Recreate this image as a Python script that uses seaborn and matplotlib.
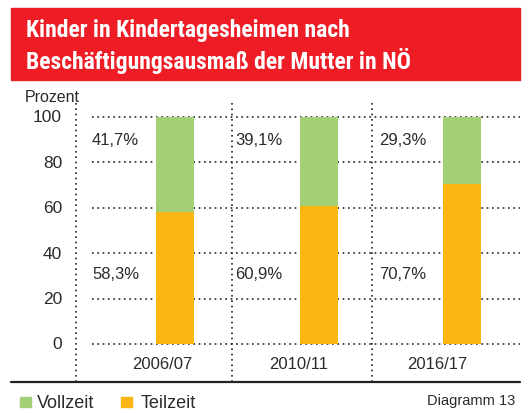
import matplotlib
matplotlib.use("Agg")
import matplotlib.pyplot as plt
import seaborn as sns
import pandas as pd
from matplotlib.patches import Rectangle
from matplotlib.lines import Line2D
from matplotlib import font_manager

years = ["2006/07", "2010/11", "2016/17"]
teilzeit = [58.3, 60.9, 70.7]
vollzeit = [41.7, 39.1, 29.3]
teil_labels = ["58,3%", "60,9%", "70,7%"]
voll_labels = ["41,7%", "39,1%", "29,3%"]
yticks = [0, 20, 40, 60, 80, 100]

GREEN = "#A3D077"
ORANGE = "#FBB614"
RED = "#EE1C25"
TXT = "#2b2b2b"

sns.set_theme(style="white")
plt.rcParams['font.family'] = ['Liberation Sans', 'DejaVu Sans']
names = {f.name for f in font_manager.fontManager.ttflist}
title_font = 'Liberation Sans'
for cand in ['Roboto Condensed', 'Liberation Sans Narrow', 'PT Sans Narrow',
             'Archivo Narrow', 'Barlow Condensed']:
    if cand in names:
        title_font = cand
        break

W, H = 528, 414
fig = plt.figure(figsize=(W / 100, H / 100), dpi=100)

def fx(px):
    return px / W

def fy(py):
    return 1 - py / H

# Red banner
fig.patches.append(Rectangle((fx(11), fy(81)), fx(520) - fx(11), fy(9) - fy(81),
                             transform=fig.transFigure, color=RED, zorder=0))
fig.text(fx(26), fy(31), "Kinder in Kindertagesheimen nach", color="white",
         fontsize=17, fontweight="bold", family=[title_font, 'DejaVu Sans'],
         va="center", ha="left")
fig.text(fx(26), fy(61), "Beschäftigungsausmaß der Mutter in NÖ", color="white",
         fontsize=17, fontweight="bold", family=[title_font, 'DejaVu Sans'],
         va="center", ha="left")

fig.text(fx(25), fy(97), "Prozent", fontsize=11.5, color=TXT, va="center", ha="left")

# Axes: left px 75 .. right px 520 ; top px 104 .. bottom px 383
ax = fig.add_axes([fx(75), fy(383), fx(520) - fx(75), fy(104) - fy(383)])
spacing = 143.5
x_left = (75 - 175) / spacing
x_right = (520 - 175) / spacing
py_per_unit = (345 - 118) / 100
y_top = (345 - 104) / py_per_unit
y_bot = (345 - 383) / py_per_unit

df = pd.DataFrame({"Jahr": years, "Teilzeit": teilzeit, "Vollzeit": vollzeit})
df["Gesamt"] = df["Teilzeit"] + df["Vollzeit"]
bw = 38 / spacing
sns.barplot(data=df, x="Jahr", y="Gesamt", color=GREEN, width=bw, saturation=1,
            ax=ax, zorder=3, linewidth=0)
sns.barplot(data=df, x="Jahr", y="Teilzeit", color=ORANGE, width=bw, saturation=1,
            ax=ax, zorder=3, linewidth=0)

ax.set_xlim(x_left, x_right)
ax.set_ylim(y_bot, y_top)
for s in ax.spines.values():
    s.set_visible(False)
ax.set_xlabel("")
ax.set_ylabel("")
ax.set_xticks([])
ax.set_yticks([])

DOTS = (0, (1, 2.2))
# Horizontal dotted grid lines
gx0 = (92 - 175) / spacing
for v in yticks:
    ax.plot([gx0, x_right], [v, v], linestyle=DOTS, color="#222222",
            linewidth=1.2, zorder=1)
    ax.text(x_left - 13 / spacing, v, str(v), ha="right", va="center",
            fontsize=12.5, color=TXT, clip_on=False)

# Vertical dotted lines
for px in [75.5, 232, 372]:
    xv = (px - 175) / spacing
    ax.plot([xv, xv], [y_bot, y_top], linestyle=DOTS, color="#222222",
            linewidth=1.2, zorder=1, clip_on=False)

# Percentage labels and category labels
label_offsets = [-12.5, -20, -25]
for i in range(len(years)):
    lx = i + (92 - 175) / spacing
    ax.text(lx, 90, voll_labels[i], ha="left", va="center", fontsize=12, color=TXT)
    ax.text(lx, 31, teil_labels[i], ha="left", va="center", fontsize=12, color=TXT)
    ax.text(i + label_offsets[i] / spacing, (345 - 365) / py_per_unit, years[i],
            ha="center", va="center", fontsize=12, color=TXT)

# Bottom rule
fig.add_artist(Line2D([fx(11), fx(520)], [fy(383), fy(383)], transform=fig.transFigure,
                      color="#222222", linewidth=1.6))

# Legend
fig.patches.append(Rectangle((fx(19.5), fy(408)), fx(11), fy(397.5) - fy(408),
                             transform=fig.transFigure, color=GREEN))
fig.text(fx(37), fy(403.5), "Vollzeit", fontsize=13, color=TXT, va="center", ha="left")
fig.patches.append(Rectangle((fx(121), fy(408)), fx(11), fy(397.5) - fy(408),
                             transform=fig.transFigure, color=ORANGE))
fig.text(fx(141), fy(403.5), "Teilzeit", fontsize=13, color=TXT, va="center", ha="left")
fig.text(fx(515), fy(401), "Diagramm 13", fontsize=10.5, color=TXT, va="center", ha="right")

fig.savefig("out.png", dpi=100)
